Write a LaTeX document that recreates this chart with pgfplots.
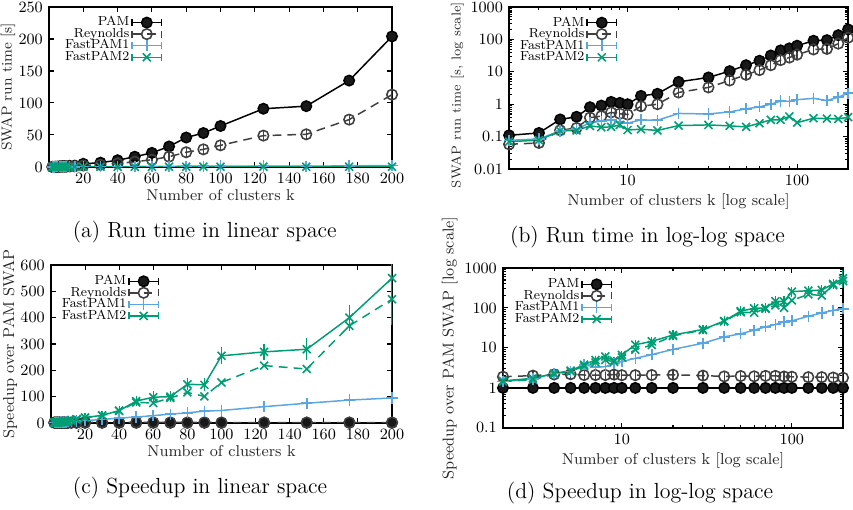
\documentclass[border=0pt]{standalone}
\usepackage{pgfplots}
\usepackage{pgfplotstable}
\pgfplotsset{compat=1.18}

\definecolor{reygray}{HTML}{404040}
\definecolor{fpblue}{RGB}{90,166,222}
\definecolor{fpgreen}{HTML}{009E73}

% run time in seconds
\pgfplotstableread{
k   pam   rey    fp1   fp2
2   0.11  0.058  0.077 0.070
3   0.13  0.064  0.085 0.078
4   0.34  0.157  0.150 0.150
5   0.41  0.185  0.170 0.155
6   0.81  0.386  0.27  0.215
7   0.91  0.43   0.30  0.195
8   1.18  0.56   0.33  0.20
9   1.10  0.51   0.28  0.23
10  1.00  0.48   0.26  0.16
12  1.81  0.87   0.33  0.17
15  2.10  1.00   0.32  0.155
20  4.9   2.3    0.52  0.22
30  6.7   3.3    0.50  0.23
40  10.5  5.4    0.58  0.215
50  16    8.1    0.72  0.20
60  22    11.3   0.83  0.26
70  32    16     1.0   0.33
80  46    23     1.25  0.33
90  53    27.5   1.23  0.42
100 64    33.8   1.38  0.27
125 91    49     1.52  0.37
150 95    51     1.3   0.36
175 135   74     1.65  0.35
200 204   113    2.2   0.40
}\runtime

% speedup over PAM SWAP
\pgfplotstableread{
k   pam rey   fp1   fp2   fp2e  fp2b
2   1   1.9   1.44  1.5   0     1.45
3   1   2.03  1.68  1.74  0     1.6
4   1   2.17  2.3   2.3   0     2.2
5   1   2.2   2.56  2.7   0     2.6
6   1   2.1   3.8   3.8   0     3.5
7   1   2.1   3.3   5.0   0     4.3
8   1   2.1   3.4   6.1   0     5.0
9   1   2.15  4.1   4.8   0     4.5
10  1   2.08  4.55  6.7   0     5.8
12  1   2.08  5.5   12    0.5   9
15  1   2.1   6.8   14.6  0.5   11.8
20  1   2.13  9.2   21    1     20
30  1   2.03  13.1  29    1.5   28
40  1   1.94  18.9  47    2     46
50  1   1.98  22.6  83    5     78
60  1   1.95  27.8  98    8     76
70  1   2.0   33.7  100   5     95
80  1   2.0   38.5  147   8     116
90  1   1.93  45    145   10    101
100 1   1.9   47.5  255   18    154
125 1   1.86  62    270   15    218
150 1   1.86  75    280   28    205
175 1   1.82  87    400   35    369
200 1   1.8   95    550   165   470
}\speedup

\pgfplotsset{
  every axis/.append style={
    scale only axis,
    axis line style={line width=1pt},
    tick align=inside, tick pos=both,
    major tick length=3pt, minor tick length=1.7pt,
    every tick/.style={black, line width=0.6pt},
    tick label style={font=\fontsize{9}{10}\selectfont},
    label style={font=\fontsize{9}{10}\selectfont, black!85},
    ylabel style={yshift=-5pt},
    legend style={draw=none, fill=none, font=\fontsize{7.5}{8}\selectfont,
      legend cell align=right, row sep=-2.2pt, nodes={inner sep=1pt}},
    legend plot pos=right,
    legend image code/.code={
      \draw[##1, mark=none] (0pt,0pt) -- (17pt,0pt);
      \draw[##1, solid, mark=none] (0pt,-2pt) -- (0pt,2pt) (17pt,-2pt) -- (17pt,2pt);
      \draw[##1, only marks] plot coordinates {(8.5pt,0pt)};
    },
  },
  pam/.style={black, line width=0.85pt, mark=*, mark size=3pt,
    mark options={solid, fill=black!90}},
  rey/.style={reygray, line width=0.85pt, dash pattern=on 5pt off 3.5pt,
    mark=o, mark size=3pt, mark options={solid, line width=0.9pt}},
  fp1/.style={fpblue, line width=0.85pt, mark=+, mark size=3.2pt,
    mark options={solid, line width=0.9pt}},
  fp2/.style={fpgreen, line width=0.85pt, mark=x, mark size=3.2pt,
    mark options={solid, line width=0.9pt}},
  zbar/.style={error bars/.cd, y dir=both, y fixed=0,
    error mark options={solid, mark size=2.6pt, line width=0.7pt}},
  ebar/.style={error bars/.cd, y dir=both, y explicit,
    error bar style={solid, line width=0.7pt},
    error mark options={solid, mark size=2.2pt, line width=0.7pt}},
}

\begin{document}
\begin{tikzpicture}
\useasboundingbox (0pt,0pt) rectangle (487.4pt,-290.9pt);

% (a) run time, linear
\begin{axis}[at={(28pt,-4pt)}, anchor=north west,
  width=196pt, height=91.4pt,
  xmin=0, xmax=200, ymin=0, ymax=250,
  xtick={20,40,...,200}, ytick={0,50,...,250},
  xlabel={Number of clusters k}, ylabel={SWAP run time [s]},
  xlabel style={yshift=3.5pt},
  ylabel style={font=\fontsize{8.3}{10}\selectfont},
  legend style={at={(0.347,0.975)}, anchor=north east}]
\addplot[pam, zbar] table[x=k, y=pam] {\runtime};
\addlegendentry{PAM}
\addplot[rey, zbar] table[x=k, y=rey] {\runtime};
\addlegendentry{Reynolds}
\addplot[fp1] table[x=k, y=fp1] {\runtime};
\addlegendentry{FastPAM1}
\addplot[fp2] table[x=k, y=fp2] {\runtime};
\addlegendentry{FastPAM2}
\end{axis}

% (b) run time, log-log
\begin{axis}[at={(290.9pt,-4pt)}, anchor=north west,
  width=193.7pt, height=92.6pt,
  xmode=log, ymode=log,
  xmin=2, xmax=200, ymin=0.01, ymax=1000,
  xtick={10,100}, xticklabels={10,100},
  minor xtick={2,3,4,5,6,7,8,9,20,30,40,50,60,70,80,90,200},
  ytick={0.01,0.1,1,10,100,1000},
  yticklabels={0.01,0.1,1,10,100,1000},
  minor ytick={0.02,0.03,0.04,0.05,0.06,0.07,0.08,0.09,
    0.2,0.3,0.4,0.5,0.6,0.7,0.8,0.9,2,3,4,5,6,7,8,9,
    20,30,40,50,60,70,80,90,200,300,400,500,600,700,800,900},
  xlabel={Number of clusters k [log scale]},
  ylabel={SWAP run time [s, log scale]},
  xlabel style={yshift=2.5pt},
  ylabel style={yshift=2pt, xshift=-4pt, font=\fontsize{7.4}{9}\selectfont},
  legend style={at={(0.336,0.975)}, anchor=north east}]
\addplot[pam, zbar] table[x=k, y=pam] {\runtime};
\addlegendentry{PAM}
\addplot[rey, zbar] table[x=k, y=rey] {\runtime};
\addlegendentry{Reynolds}
\addplot[fp1] table[x=k, y=fp1] {\runtime};
\addlegendentry{FastPAM1}
\addplot[fp2] table[x=k, y=fp2] {\runtime};
\addlegendentry{FastPAM2}
\end{axis}

% (c) speedup, linear
\begin{axis}[at={(29.1pt,-151.4pt)}, anchor=north west,
  width=194.9pt, height=90.3pt,
  xmin=0, xmax=200, ymin=0, ymax=600,
  xtick={20,40,...,200}, ytick={0,100,...,600},
  xlabel={Number of clusters k}, ylabel={Speedup over PAM SWAP},
  xlabel style={yshift=3.5pt},
  legend style={at={(0.334,0.97)}, anchor=north east}]
\addplot[pam, zbar] table[x=k, y=pam] {\speedup};
\addlegendentry{PAM}
\addplot[rey, zbar] table[x=k, y=rey] {\speedup};
\addlegendentry{Reynolds}
\addplot[fp1] table[x=k, y=fp1] {\speedup};
\addlegendentry{FastPAM1}
\addplot[fp2, ebar] table[x=k, y=fp2, y error=fp2e] {\speedup};
\addlegendentry{FastPAM2}
\addplot[fp2, dash pattern=on 5pt off 3.5pt, forget plot] table[x=k, y=fp2b] {\speedup};
\end{axis}

% (d) speedup, log-log
\begin{axis}[at={(287.4pt,-153.1pt)}, anchor=north west,
  width=194.3pt, height=91.4pt,
  xmode=log, ymode=log,
  xmin=2, xmax=200, ymin=0.1, ymax=1000,
  xtick={10,100}, xticklabels={10,100},
  minor xtick={2,3,4,5,6,7,8,9,20,30,40,50,60,70,80,90,200},
  ytick={0.1,1,10,100,1000},
  yticklabels={0.1,1,10,100,1000},
  minor ytick={0.2,0.3,0.4,0.5,0.6,0.7,0.8,0.9,2,3,4,5,6,7,8,9,
    20,30,40,50,60,70,80,90,200,300,400,500,600,700,800,900},
  xlabel={Number of clusters k [log scale]},
  ylabel={Speedup over PAM SWAP [log scale]},
  xlabel style={yshift=2.5pt},
  ylabel style={yshift=2pt},
  legend style={at={(0.338,0.97)}, anchor=north east}]
\addplot[pam, zbar] table[x=k, y=pam] {\speedup};
\addlegendentry{PAM}
\addplot[rey, zbar] table[x=k, y=rey] {\speedup};
\addlegendentry{Reynolds}
\addplot[fp1] table[x=k, y=fp1] {\speedup};
\addlegendentry{FastPAM1}
\addplot[fp2, ebar] table[x=k, y=fp2, y error=fp2e] {\speedup};
\addlegendentry{FastPAM2}
\addplot[fp2, dash pattern=on 5pt off 3.5pt, forget plot] table[x=k, y=fp2b] {\speedup};
\end{axis}

\node[font=\fontsize{12.5}{14}\selectfont] at (117pt,-132.6pt) {(a) Run time in linear space};
\node[font=\fontsize{12.5}{14}\selectfont] at (370pt,-135.4pt) {(b) Run time in log-log space};
\node[font=\fontsize{12.5}{14}\selectfont] at (114.3pt,-278.9pt) {(c) Speedup in linear space};
\node[font=\fontsize{12.5}{14}\selectfont] at (365.7pt,-281.7pt) {(d) Speedup in log-log space};
\end{tikzpicture}
\end{document}
